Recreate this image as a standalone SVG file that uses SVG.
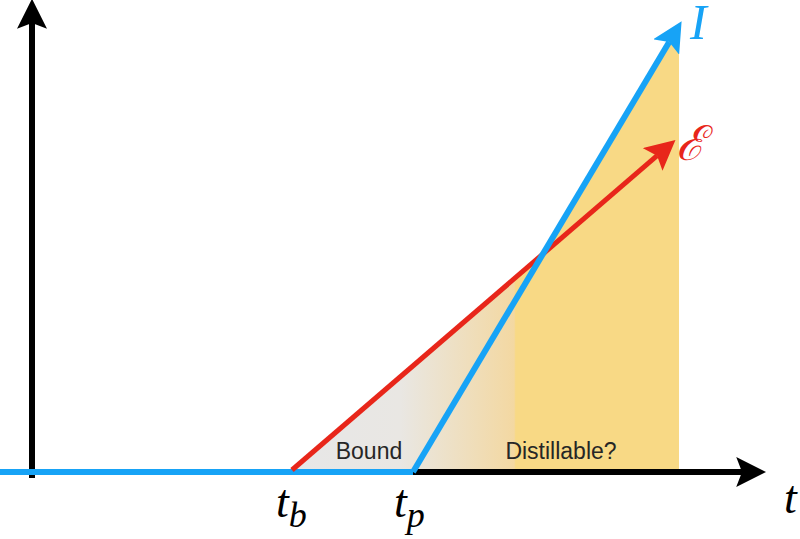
<svg xmlns="http://www.w3.org/2000/svg" width="800" height="539" viewBox="0 0 800 539">
<style>
.ax{stroke:#000;stroke-width:6;fill:none}
.bl{stroke:#17a3f6;stroke-width:6;fill:none}
.rd{stroke:#e8261a;stroke-width:5;fill:none}
.math{font-family:"Liberation Serif","DejaVu Serif",serif;font-style:italic}
.lab{font-family:"Liberation Sans",Arial,sans-serif;font-size:23px;fill:#262626;text-anchor:middle}
</style>
<defs>
<linearGradient id="fillg" gradientUnits="userSpaceOnUse" x1="292" y1="0" x2="679" y2="0">
<stop offset="0" stop-color="#e7e7e7"/>
<stop offset="0.28" stop-color="#e9e7e3"/>
<stop offset="0.574" stop-color="#f3d8a2"/>
<stop offset="0.578" stop-color="#f8d985"/>
<stop offset="1" stop-color="#f8d985"/>
</linearGradient>
<marker id="ak" markerUnits="userSpaceOnUse" markerWidth="30" markerHeight="30" refX="5" refY="13" orient="auto" viewBox="0 0 26 26"><path d="M0,0 L26,13 L0,26 L5,13 z" fill="#000"/></marker>
<marker id="ab" markerUnits="userSpaceOnUse" markerWidth="30" markerHeight="30" refX="5" refY="13" orient="auto" viewBox="0 0 26 26"><path d="M0,0 L26,13 L0,26 L5,13 z" fill="#17a3f6"/></marker>
<marker id="ar" markerUnits="userSpaceOnUse" markerWidth="30" markerHeight="30" refX="5" refY="13" orient="auto" viewBox="0 0 26 26"><path d="M0,0 L26,13 L0,26 L5,13 z" fill="#e8261a"/></marker>
</defs>
<g id="region">
<polygon points="292,471 542.2,254.6 679,25.7 679,471" fill="url(#fillg)"/>
</g>
<g id="connectors">
<line class="ax" x1="0" y1="472" x2="742" y2="472" marker-end="url(#ak)"/>
<line class="ax" x1="32" y1="478" x2="32" y2="23" marker-end="url(#ak)"/>
<line class="bl" x1="0" y1="472" x2="413" y2="472"/>
<line class="rd" x1="292" y1="470" x2="657.1" y2="155.7" marker-end="url(#ar)"/>
<line class="bl" x1="413" y1="472" x2="669.2" y2="42" marker-end="url(#ab)"/>
</g>
<g id="labels">
<text class="lab" x="369" y="459">Bound</text>
<text class="lab" x="561" y="459">Distillable?</text>
<text class="math" x="276" y="517" font-size="46">t<tspan font-size="36" dy="10">b</tspan></text>
<text class="math" x="394" y="517" font-size="46">t<tspan font-size="36" dy="10">p</tspan></text>
<text class="math" x="784" y="513" font-size="46">t</text>
<text class="math" x="690" y="39" font-size="50" fill="#17a3f6">I</text>
<text x="676" y="160" font-size="48" fill="#e8261a" font-family="'DejaVu Serif','Liberation Serif',serif" font-style="italic">ℰ</text>
</g>
</svg>
